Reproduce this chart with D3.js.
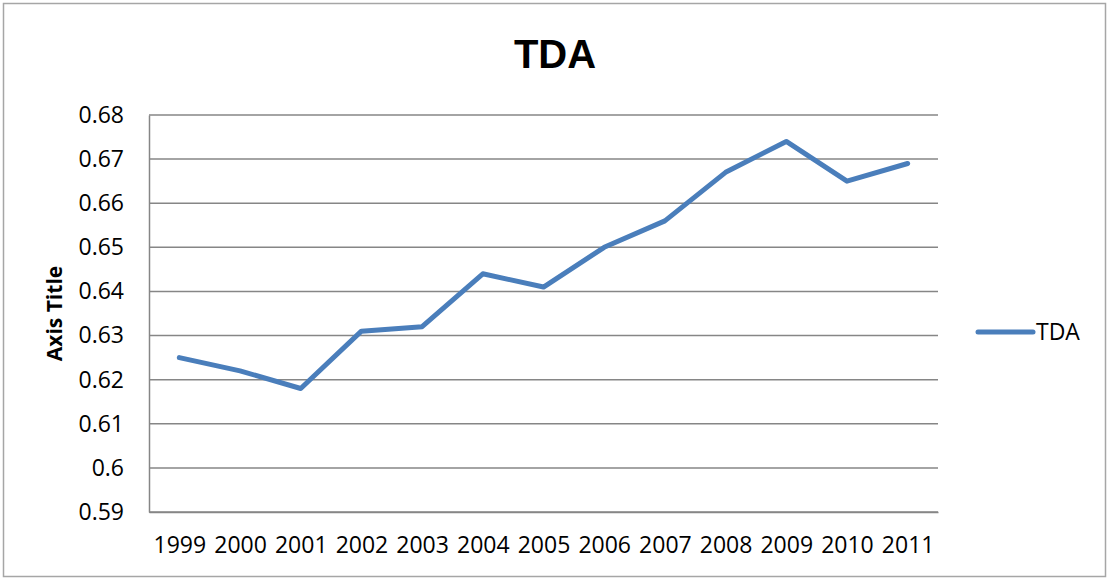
<html>
<head>
<script src="https://cdnjs.cloudflare.com/ajax/libs/d3/7.8.5/d3.min.js"></script>
<style>
  body { margin: 0; background: #fff; }
  svg { display: block; }
  .tick text { font-family: "Open Sans", sans-serif; font-size: 23px; fill: #000; }
</style>
</head>
<body>
<svg id="chart"></svg>
<script>
const WIDTH = 1108
const HEIGHT = 579
const MARGIN = { left: 149, top: 115, right: 170, bottom: 67 }

const years = ["1999", "2000", "2001", "2002", "2003", "2004", "2005", "2006", "2007", "2008", "2009", "2010", "2011"]
const tda = [0.625, 0.622, 0.618, 0.631, 0.632, 0.644, 0.641, 0.650, 0.656, 0.667, 0.674, 0.665, 0.669]
const yTicks = [0.59, 0.6, 0.61, 0.62, 0.63, 0.64, 0.65, 0.66, 0.67, 0.68]
const seriesName = "TDA"
const LINE_COLOR = "#4a7ebb"

const svg = d3.select("#chart").attr("width", WIDTH).attr("height", HEIGHT)

// outer frame
svg.append("rect")
  .attr("x", 3.5).attr("y", 3.5)
  .attr("width", WIDTH - 6).attr("height", HEIGHT - 6)
  .attr("fill", "none").attr("stroke", "#a6a6a6").attr("stroke-width", 1.5)

const xScale = d3.scalePoint()
  .domain(years)
  .range([MARGIN.left, WIDTH - MARGIN.right])
  .padding(0.5)

const yScale = d3.scaleLinear()
  .domain([0.59, 0.68])
  .range([HEIGHT - MARGIN.bottom, MARGIN.top])

// gridlines
svg.append("g")
  .selectAll("line")
  .data(yTicks)
  .join("line")
  .attr("x1", MARGIN.left).attr("x2", WIDTH - MARGIN.right)
  .attr("y1", d => yScale(d)).attr("y2", d => yScale(d))
  .attr("stroke", "#868686").attr("stroke-width", 1.5)

// y axis
let yAxis = d3.axisLeft(yScale).tickValues(yTicks).tickSize(0).tickPadding(25).tickFormat(d => String(+d.toFixed(2)))
let yg = svg.append("g")
  .attr("transform", `translate(${MARGIN.left},0)`)
  .call(yAxis)
yg.select(".domain").attr("stroke", "#868686").attr("stroke-width", 1.5)

// x axis
let xAxis = d3.axisBottom(xScale).tickSize(0).tickPadding(25)
let xg = svg.append("g")
  .attr("transform", `translate(0,${HEIGHT - MARGIN.bottom})`)
  .call(xAxis)
xg.select(".domain").attr("stroke", "#868686").attr("stroke-width", 1.5)

// series line
const line = d3.line()
  .x((d, i) => xScale(years[i]))
  .y(d => yScale(d))

svg.append("path")
  .datum(tda)
  .attr("fill", "none")
  .attr("stroke", LINE_COLOR)
  .attr("stroke-width", 5)
  .attr("stroke-linejoin", "round")
  .attr("stroke-linecap", "round")
  .attr("d", line)

// title
svg.append("text")
  .text("TDA")
  .attr("x", 555).attr("y", 68)
  .attr("text-anchor", "middle")
  .attr("font-family", "Liberation Sans, Arial, sans-serif")
  .attr("font-weight", "bold")
  .attr("font-size", 40)

// axis title
svg.append("text")
  .text("Axis Title")
  .attr("transform", `translate(62,${(MARGIN.top + HEIGHT - MARGIN.bottom) / 2}) rotate(-90)`)
  .attr("text-anchor", "middle")
  .attr("font-family", "Open Sans, sans-serif")
  .attr("font-weight", "bold")
  .attr("font-size", 21)

// legend
let legend = svg.append("g").attr("transform", "translate(978,332)")
legend.append("line")
  .attr("x1", 0).attr("x2", 55)
  .attr("stroke", LINE_COLOR).attr("stroke-width", 5).attr("stroke-linecap", "round")
legend.append("text")
  .text(seriesName)
  .attr("x", 58).attr("dy", "0.35em")
  .attr("font-family", "Open Sans, sans-serif")
  .attr("font-size", 23)
</script>
</body>
</html>
